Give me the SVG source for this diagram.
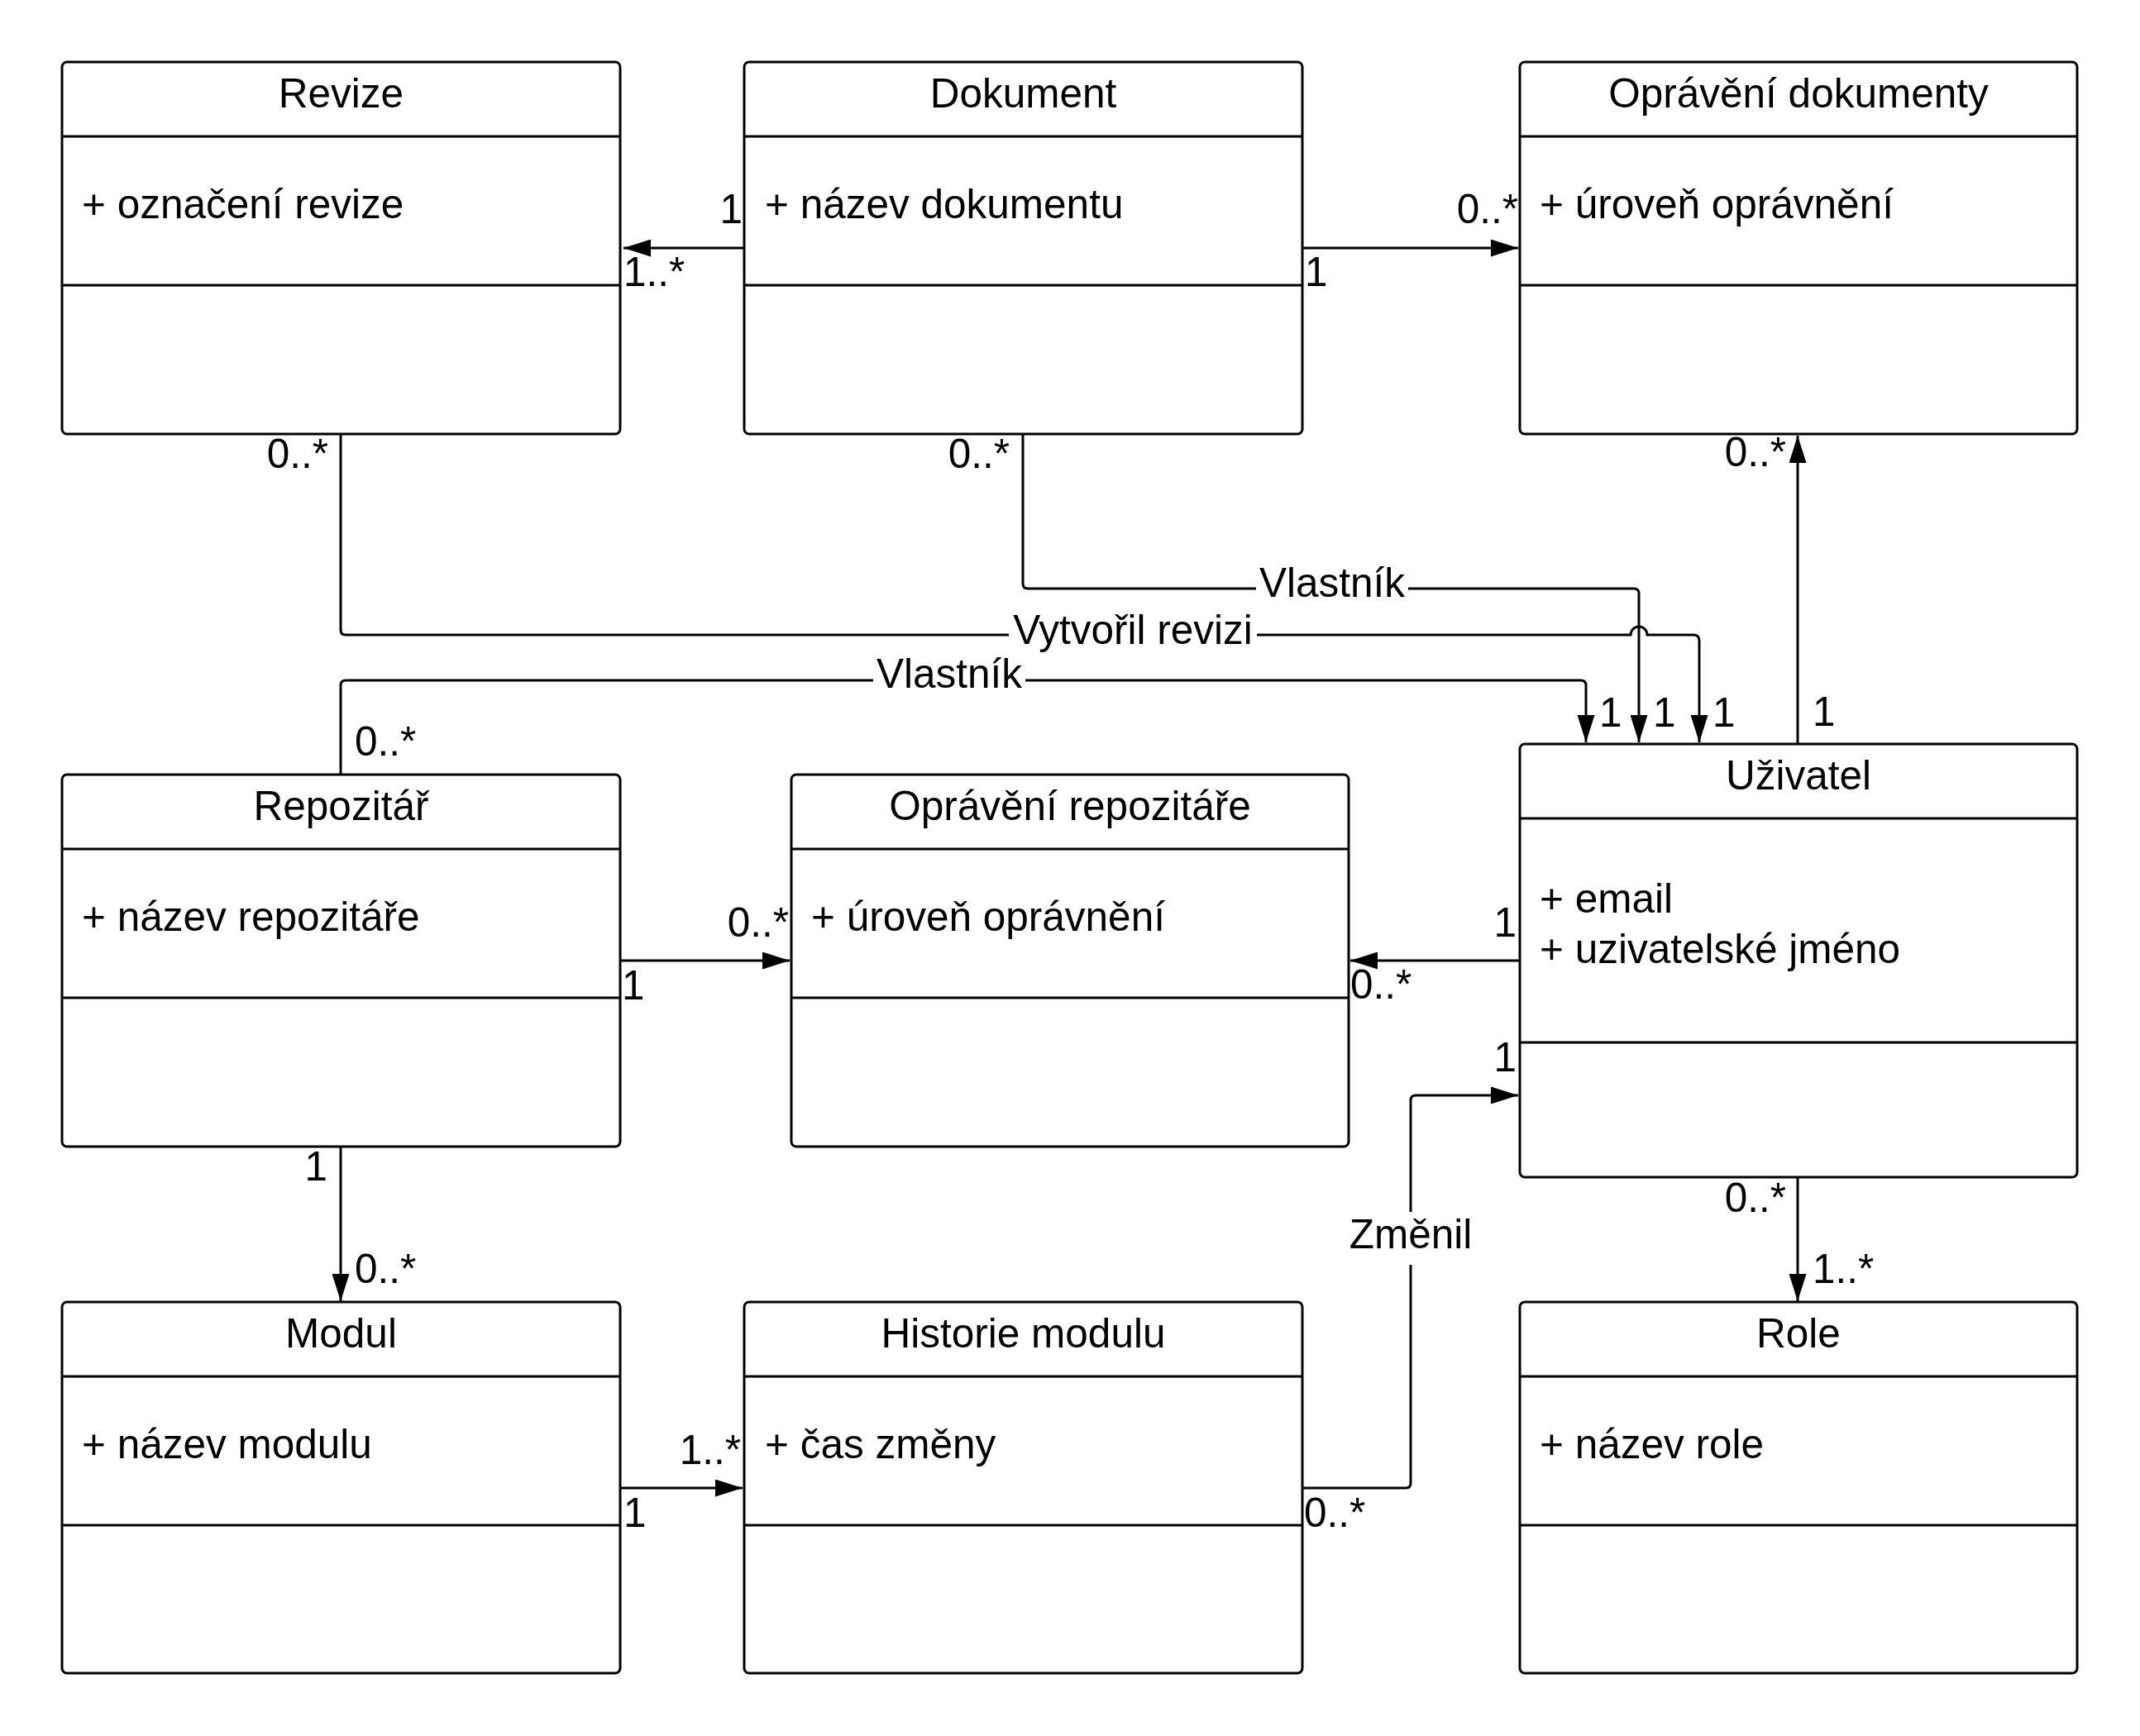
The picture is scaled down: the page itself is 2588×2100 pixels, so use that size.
<svg xmlns="http://www.w3.org/2000/svg" width="2588" height="2100" viewBox="0 0 2588 2100">
<style>
.box{fill:#fff;stroke:#000;stroke-width:3}
.dv{stroke:#000;stroke-width:3}
.t{font-family:"Liberation Sans",Arial,sans-serif;font-size:49.5px;fill:#000}
.c{text-anchor:middle}
.e{text-anchor:end}
.cn{fill:none;stroke:#000;stroke-width:3}
.bg{fill:#fff}
</style>
<defs>
<marker id="ah" viewBox="0 0 33 21" refX="33" refY="10.5" markerWidth="33" markerHeight="21" orient="auto" markerUnits="userSpaceOnUse">
<path d="M0,0 L33,10.5 L0,21 z" fill="#000"/>
</marker>
</defs>
<rect width="2588" height="2100" fill="#fff"/>

<g id="connectors">
<path class="cn" d="M900,300 H754" marker-end="url(#ah)"/>
<path class="cn" d="M1575,300 H1836" marker-end="url(#ah)"/>
<path class="cn" d="M412,525 V762 Q412,768 418,768 H1972 A10,10 0 0 1 1992,768 H2048 Q2055,768 2055,775 V898" marker-end="url(#ah)"/>
<path class="cn" d="M1237,525 V706 Q1237,712 1243,712 H1976 Q1982,712 1982,718 V898" marker-end="url(#ah)"/>
<path class="cn" d="M412,937 V829 Q412,823 418,823 H1912 Q1918,823 1918,829 V898" marker-end="url(#ah)"/>
<path class="cn" d="M2174,900 V527" marker-end="url(#ah)"/>
<path class="cn" d="M751,1162 H955" marker-end="url(#ah)"/>
<path class="cn" d="M1838,1162 H1633" marker-end="url(#ah)"/>
<path class="cn" d="M1575,1800 H1700 Q1706,1800 1706,1794 V1331 Q1706,1325 1712,1325 H1836" marker-end="url(#ah)"/>
<path class="cn" d="M412,1387 V1574" marker-end="url(#ah)"/>
<path class="cn" d="M751,1800 H898" marker-end="url(#ah)"/>
<path class="cn" d="M2174,1424 V1574" marker-end="url(#ah)"/>

<rect class="bg" x="1519" y="690" width="184" height="44"/>
<text class="t c" x="1611" y="722">Vlastník</text>
<rect class="bg" x="1220" y="745" width="300" height="44"/>
<text class="t c" x="1370" y="779">Vytvořil revizi</text>
<rect class="bg" x="1056" y="800" width="184" height="44"/>
<text class="t c" x="1148" y="832">Vlastník</text>
<rect class="bg" x="1630" y="1466" width="152" height="64"/>
<text class="t c" x="1706" y="1510">Změnil</text>

<text class="t e" x="898" y="270">1</text>
<text class="t" x="754" y="346">1..*</text>
<text class="t" x="1578" y="346">1</text>
<text class="t e" x="1836" y="270">0..*</text>
<text class="t e" x="397" y="566">0..*</text>
<text class="t e" x="1221" y="566">0..*</text>
<text class="t e" x="2160" y="564">0..*</text>
<text class="t" x="1934" y="879">1</text>
<text class="t" x="1999" y="879">1</text>
<text class="t" x="2071" y="879">1</text>
<text class="t" x="2192" y="878">1</text>
<text class="t" x="429" y="914">0..*</text>
<text class="t" x="752" y="1209">1</text>
<text class="t e" x="954" y="1133">0..*</text>
<text class="t e" x="1834" y="1133">1</text>
<text class="t" x="1633" y="1208">0..*</text>
<text class="t e" x="1834" y="1296">1</text>
<text class="t" x="1577" y="1847">0..*</text>
<text class="t e" x="396" y="1428">1</text>
<text class="t" x="429" y="1552">0..*</text>
<text class="t" x="754" y="1847">1</text>
<text class="t e" x="896" y="1771">1..*</text>
<text class="t e" x="2160" y="1466">0..*</text>
<text class="t" x="2192" y="1552">1..*</text>
</g>

<g id="revize">
<rect class="box" x="75" y="75" width="675" height="450" rx="6"/>
<line class="dv" x1="75" y1="165" x2="750" y2="165"/>
<line class="dv" x1="75" y1="345" x2="750" y2="345"/>
<text class="t c" x="412.5" y="130">Revize</text>
<text class="t" x="99" y="264">+ označení revize</text>
</g>

<g id="dokument">
<rect class="box" x="900" y="75" width="675" height="450" rx="6"/>
<line class="dv" x1="900" y1="165" x2="1575" y2="165"/>
<line class="dv" x1="900" y1="345" x2="1575" y2="345"/>
<text class="t c" x="1237.5" y="130">Dokument</text>
<text class="t" x="925" y="264">+ název dokumentu</text>
</g>

<g id="opravneni-dokumenty">
<rect class="box" x="1838" y="75" width="674" height="450" rx="6"/>
<line class="dv" x1="1838" y1="165" x2="2512" y2="165"/>
<line class="dv" x1="1838" y1="345" x2="2512" y2="345"/>
<text class="t c" x="2175" y="130">Oprávění dokumenty</text>
<text class="t" x="1862" y="264">+ úroveň oprávnění</text>
</g>

<g id="repozitar">
<rect class="box" x="75" y="937" width="675" height="450" rx="6"/>
<line class="dv" x1="75" y1="1027" x2="750" y2="1027"/>
<line class="dv" x1="75" y1="1207" x2="750" y2="1207"/>
<text class="t c" x="412.5" y="992">Repozitář</text>
<text class="t" x="99" y="1126">+ název repozitáře</text>
</g>

<g id="opravneni-repozitare">
<rect class="box" x="957" y="937" width="674" height="450" rx="6"/>
<line class="dv" x1="957" y1="1027" x2="1631" y2="1027"/>
<line class="dv" x1="957" y1="1207" x2="1631" y2="1207"/>
<text class="t c" x="1294" y="992">Oprávění repozitáře</text>
<text class="t" x="981" y="1126">+ úroveň oprávnění</text>
</g>

<g id="uzivatel">
<rect class="box" x="1838" y="900" width="674" height="524" rx="6"/>
<line class="dv" x1="1838" y1="990" x2="2512" y2="990"/>
<line class="dv" x1="1838" y1="1261" x2="2512" y2="1261"/>
<text class="t c" x="2175" y="955">Uživatel</text>
<text class="t" x="1862" y="1104">+ email</text>
<text class="t" x="1862" y="1165">+ uzivatelské jméno</text>
</g>

<g id="modul">
<rect class="box" x="75" y="1575" width="675" height="449" rx="6"/>
<line class="dv" x1="75" y1="1665" x2="750" y2="1665"/>
<line class="dv" x1="75" y1="1845" x2="750" y2="1845"/>
<text class="t c" x="412.5" y="1630">Modul</text>
<text class="t" x="99" y="1764">+ název modulu</text>
</g>

<g id="historie-modulu">
<rect class="box" x="900" y="1575" width="675" height="449" rx="6"/>
<line class="dv" x1="900" y1="1665" x2="1575" y2="1665"/>
<line class="dv" x1="900" y1="1845" x2="1575" y2="1845"/>
<text class="t c" x="1237.5" y="1630">Historie modulu</text>
<text class="t" x="925" y="1764">+ čas změny</text>
</g>

<g id="role">
<rect class="box" x="1838" y="1575" width="674" height="449" rx="6"/>
<line class="dv" x1="1838" y1="1665" x2="2512" y2="1665"/>
<line class="dv" x1="1838" y1="1845" x2="2512" y2="1845"/>
<text class="t c" x="2175" y="1630">Role</text>
<text class="t" x="1862" y="1764">+ název role</text>
</g>
</svg>
